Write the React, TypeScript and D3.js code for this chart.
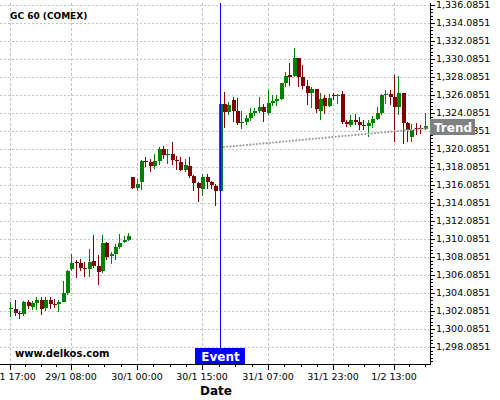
import React from "react";
import * as d3 from "d3";

const opens = [
  1302.42, 1302.31, 1301.83, 1301.71, 1303.12, 1302.49, 1303.01, 1303.34, 1302.42, 1303.34,
  1302.9, 1302.83, 1303.12, 1304.12, 1306.71, 1307.57, 1307.46, 1306.86, 1306.71, 1307.68,
  1307.12, 1306.49, 1309.68, 1308.16, 1308.46, 1309.23, 1309.79, 1309.97,
  1317.01, 1315.71, 1316.38, 1318.79, 1318.68, 1318.16, 1318.75, 1320.09, 1319.42, 1319.53,
  1318.9, 1318.68, 1317.79, 1318.23, 1317.12, 1316.27, 1315.64, 1317.01, 1316.38, 1316.01,
  1315.38,
  1325.09, 1324.2, 1325.53, 1324.3, 1323.0, 1323.08, 1323.5, 1324.1, 1324.3, 1324.8,
  1324.1, 1325.2, 1325.45, 1325.68, 1327.4, 1328.3, 1328.2, 1330.16, 1328.05, 1327.08,
  1326.34, 1326.7, 1324.3, 1325.7, 1324.9, 1326.12, 1325.95, 1326.18,
  1323.08, 1322.79, 1323.34, 1323.08, 1322.79, 1322.64, 1322.97, 1323.38, 1324.09, 1326.05,
  1326.16, 1325.86, 1324.75, 1326.31, 1322.97, 1321.42, 1322.46, 1322.46, 1322.31,
];
const highs = [
  1303.05, 1303.31, 1302.12, 1303.23, 1303.31, 1303.23, 1303.6, 1303.6, 1303.6, 1303.6,
  1303.42, 1303.34, 1305.46, 1306.6, 1308.42, 1307.75, 1307.83, 1307.49, 1308.94, 1310.57,
  1308.31, 1310.57, 1309.7, 1308.6, 1309.53, 1310.64, 1310.46, 1310.75,
  1317.01, 1316.75, 1318.9, 1319.16, 1318.97, 1319.53, 1320.27, 1320.38, 1320.09, 1320.9,
  1319.35, 1319.16, 1318.97, 1319.16, 1317.2, 1316.38, 1317.31, 1317.31, 1316.57, 1316.2,
  1325.09,
  1326.42, 1325.34, 1325.9, 1325.75, 1324.3, 1323.86, 1324.6, 1324.6, 1325.9, 1325.1,
  1326.6, 1326.1, 1326.1, 1327.45, 1328.68, 1329.6, 1331.27, 1330.16, 1329.4, 1327.75,
  1326.94, 1326.7, 1326.27, 1326.1, 1326.25, 1326.32, 1326.25, 1326.5,
  1323.34, 1323.83, 1324.01, 1323.64, 1323.34, 1323.27, 1323.71, 1324.75, 1326.23, 1326.68,
  1326.68, 1328.27, 1328.16, 1326.31, 1323.08, 1322.9, 1322.97, 1322.72, 1324.09,
];
const lows = [
  1301.46, 1301.57, 1301.2, 1301.53, 1302.27, 1302.23, 1302.2, 1301.64, 1302.12, 1302.31,
  1302.46, 1301.94, 1303.1, 1303.86, 1306.57, 1305.71, 1306.57, 1305.9, 1305.9, 1306.83,
  1304.97, 1306.27, 1307.75, 1307.31, 1307.75, 1308.97, 1309.6, 1309.9,
  1315.64, 1315.46, 1315.53, 1318.05, 1317.49, 1317.86, 1318.31, 1318.97, 1318.42, 1318.31,
  1317.79, 1317.68, 1317.57, 1316.83, 1315.46, 1314.23, 1314.9, 1315.64, 1315.64, 1313.79,
  1315.38,
  1322.4, 1323.86, 1323.1, 1322.75, 1322.3, 1322.75, 1323.2, 1323.7, 1324.05, 1323.1,
  1323.9, 1324.86, 1324.86, 1325.53, 1327.0, 1327.08, 1328.12, 1327.0, 1326.7, 1325.0,
  1324.6, 1324.1, 1323.3, 1323.94, 1324.8, 1325.5, 1325.03, 1322.9,
  1322.53, 1322.53, 1322.79, 1322.16, 1322.16, 1321.42, 1322.46, 1323.27, 1323.83, 1325.12,
  1325.01, 1320.86, 1323.83, 1320.68, 1320.86, 1320.86, 1321.6, 1321.79, 1322.16,
];
const closes = [
  1302.45, 1301.83, 1301.71, 1303.12, 1302.64, 1303.01, 1303.34, 1302.27, 1303.34, 1302.83,
  1302.83, 1303.12, 1304.12, 1306.57, 1307.46, 1307.46, 1306.83, 1306.75, 1307.57, 1307.12,
  1306.38, 1309.68, 1308.05, 1308.46, 1309.23, 1309.68, 1310.01, 1310.46,
  1315.71, 1316.23, 1318.79, 1318.68, 1318.16, 1318.75, 1320.09, 1319.46, 1319.53, 1318.86,
  1318.79, 1317.79, 1318.34, 1317.05, 1316.27, 1315.71, 1317.01, 1316.38, 1316.08, 1315.38,
  1325.09,
  1324.2, 1325.0, 1324.3, 1323.0, 1323.1, 1323.53, 1324.1, 1324.3, 1324.8, 1324.2,
  1325.2, 1325.45, 1325.68, 1327.4, 1328.2, 1328.05, 1330.16, 1328.05, 1327.08, 1326.34,
  1326.8, 1324.5, 1325.6, 1324.86, 1325.8, 1325.97, 1326.08, 1323.08,
  1322.9, 1323.34, 1323.08, 1322.72, 1322.64, 1322.97, 1323.38, 1324.09, 1326.05, 1326.16,
  1325.86, 1324.75, 1326.31, 1322.97, 1322.16, 1322.23, 1322.31, 1322.31, 1322.6,
];

const xTickIndex = [0, 14, 29, 44, 59, 74, 88];
const xTickLabels = ["28/1 17:00", "29/1 08:00", "30/1 00:00", "30/1 15:00", "31/1 07:00", "31/1 23:00", "1/2 13:00"];
const yTickValues = [
  1298.0851, 1300.0851, 1302.0851, 1304.0851, 1306.0851, 1308.0851, 1310.0851, 1312.0851,
  1314.0851, 1316.0851, 1318.0851, 1320.0851, 1322.0851, 1324.0851, 1326.0851, 1328.0851,
  1330.0851, 1332.0851, 1334.0851, 1336.0851,
];
const eventIndex = 48;
const trendIndex = [49, 96.5];
const trendValues = [1320.3, 1322.42];
const title = "GC 60 (COMEX)";

const W = 500;
const H = 400;
const plotRight = 430;
const plotTop = 3;
const plotBottom = 364;
const FONT = "DejaVu Sans";

export default function App() {
  const x = d3.scaleLinear().domain([0, 95]).range([10.3, 10.3 + 95 * 4.36]);
  const y = d3.scaleLinear().domain([1298.0851, 1336.0851]).range([347, 5]);
  const fmt = d3.format(",.4f");
  const green = "#008000";
  const red = "#800000";

  // minor x ticks: quarters between majors
  const majorX = xTickIndex.map((i) => Math.round(x(i)));
  const minorX: number[] = [];
  for (let k = 0; k < majorX.length - 1; k++) {
    const step = (majorX[k + 1] - majorX[k]) / 4;
    for (let j = 1; j < 4; j++) minorX.push(Math.round(majorX[k] + j * step));
  }
  {
    const last = majorX[majorX.length - 1];
    const step = (majorX[majorX.length - 1] - majorX[majorX.length - 2]) / 4;
    for (let p = last + step; p < plotRight; p += step) minorX.push(Math.round(p));
  }

  // minor y ticks
  const [dLo, dHi] = [y.invert(plotBottom), y.invert(plotTop)];
  const minorY: number[] = [];
  for (let v = 1298.0851 - 2; v <= dHi; v += 0.4) {
    if (v >= dLo) minorY.push(Math.round(y(v)));
  }

  const line = d3.line<[number, number]>().x((d) => d[0]).y((d) => d[1]);
  const trendPath = line(trendIndex.map((i, k) => [x(i), y(trendValues[k])] as [number, number]));
  const ex = Math.round(x(eventIndex)) + 0.5;

  return (
    <div style={{ position: "absolute", left: 0, top: 0 }}>
      <svg width={W} height={H} style={{ display: "block", background: "#fff" }} fontFamily={FONT}>
        <rect x={0} y={0} width={W} height={H} fill="#fff" />
        {/* grid */}
        {yTickValues.map((v) => (
          <line key={"gy" + v} x1={0} x2={plotRight} y1={Math.round(y(v)) + 0.5} y2={Math.round(y(v)) + 0.5}
            stroke="#c4c4c4" strokeDasharray="2,2" />
        ))}
        {majorX.map((px) => (
          <line key={"gx" + px} x1={px + 0.5} x2={px + 0.5} y1={plotTop} y2={plotBottom}
            stroke="#c4c4c4" strokeDasharray="3,2" />
        ))}
        {/* candles */}
        {opens.map((o, i) => {
          const c = closes[i];
          const col = c >= o ? green : red;
          const cx = Math.round(x(i));
          const top = Math.round(y(Math.max(o, c)));
          const bot = Math.round(y(Math.min(o, c)));
          return (
            <g key={"c" + i}>
              <line x1={cx + 0.5} x2={cx + 0.5} y1={Math.round(y(highs[i]))} y2={Math.round(y(lows[i]))} stroke={col} strokeWidth={1} />
              <rect x={cx - 1.5} y={top} width={4} height={Math.max(1, bot - top)} fill={col} shapeRendering="crispEdges" />
            </g>
          );
        })}
        {/* trend line */}
        <path d={trendPath || ""} fill="none" stroke="#a0a0a0" strokeWidth={2.2} strokeDasharray="0,3.3" strokeLinecap="round" />
        {/* event line */}
        <line x1={ex} x2={ex} y1={plotTop} y2={plotBottom} stroke="#0000ff" strokeWidth={1} />
        {/* axes */}
        <line x1={0} x2={plotRight + 1} y1={plotBottom + 0.5} y2={plotBottom + 0.5} stroke="#000" />
        <line x1={plotRight + 0.5} x2={plotRight + 0.5} y1={plotTop} y2={plotBottom + 1} stroke="#000" />
        {majorX.map((px, k) => (
          <g key={"xt" + k}>
            <line x1={px + 0.5} x2={px + 0.5} y1={plotBottom} y2={plotBottom + 6} stroke="#000" />
            <text x={px} y={380} fontSize={9.5} textAnchor="middle" fill="#000">{xTickLabels[k]}</text>
          </g>
        ))}
        {minorX.map((px, k) => (
          <line key={"xm" + k} x1={px + 0.5} x2={px + 0.5} y1={plotBottom} y2={plotBottom + 3} stroke="#000" />
        ))}
        {minorY.map((py, k) => (
          <line key={"ym" + k} x1={plotRight} x2={plotRight + 3} y1={py + 0.5} y2={py + 0.5} stroke="#000" />
        ))}
        {yTickValues.map((v) => (
          <g key={"yt" + v}>
            <line x1={plotRight} x2={plotRight + 5} y1={Math.round(y(v)) + 0.5} y2={Math.round(y(v)) + 0.5} stroke="#000" />
            <text x={436} y={y(v)} dy="0.35em" fontSize={9.5} fill="#000">{fmt(v)}</text>
          </g>
        ))}
        {/* labels */}
        <text x={10} y={19} fontSize={9} fontWeight="bold" fill="#000">{title}</text>
        <text x={15} y={357} fontSize={10} fontWeight="bold" fill="#000">www.delkos.com</text>
        <text x={216} y={395} fontSize={12} fontWeight="bold" textAnchor="middle" fill="#000">Date</text>
        <rect x={Math.round(x(eventIndex)) - 25} y={348} width={50} height={16} fill="#0000ff" />
        <text x={Math.round(x(eventIndex)) + 0.5} y={361} fontSize={12} fontWeight="bold" textAnchor="middle" fill="#fff">Event</text>
        <rect x={430} y={119} width={45} height={16} fill="#808080" />
        <text x={434} y={132} fontSize={12} fontWeight="bold" fill="#fff">Trend</text>
      </svg>
    </div>
  );
}
